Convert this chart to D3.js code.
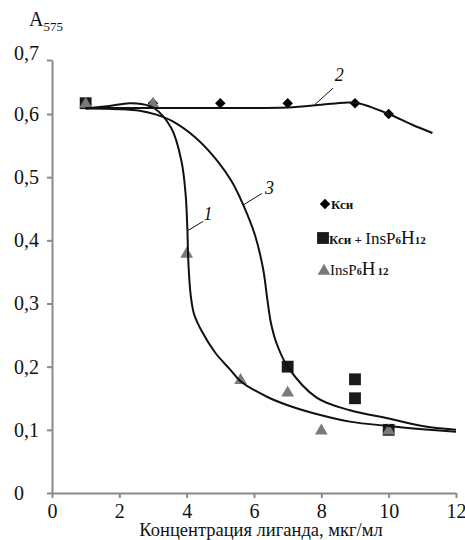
<html lang="ru">
<head>
    <meta charset="UTF-8">
    <title>A575</title>
    <script src="https://d3js.org/d3.v7.min.js"></script>
    <style>
        body { margin: 0; background: #fff; }
        text { font-family: "Liberation Serif", "Times New Roman", serif; fill: #111; }
        .axis path, .axis line { stroke: #8a8a8a; stroke-width: 2px; }
        .curve { fill: none; stroke: #111; stroke-width: 2px; }
    </style>
</head>
<body>
<div id="chart"></div>
<script>
    // data
    var xTicks = [0, 2, 4, 6, 8, 10, 12];
    var yTicks = [0, 0.1, 0.2, 0.3, 0.4, 0.5, 0.6, 0.7];

    // Кси (diamonds)
    var ksi = [[1, 0.62], [3, 0.62], [5, 0.62], [7, 0.62], [9, 0.62], [10, 0.60]];
    // Кси + InsP6H12 (squares)
    var ksiIns = [[1, 0.62], [7, 0.20], [9, 0.18], [9, 0.15], [10, 0.10]];
    // InsP6H12 (triangles)
    var ins = [[1, 0.62], [3, 0.62], [4, 0.38], [5.6, 0.18], [7, 0.16], [8, 0.10], [10, 0.10]];

    // fitted curves
    var curve1 = [[1, 0.61], [1.7, 0.615], [2.3, 0.62], [2.7, 0.618], [3.01, 0.612], [3.55, 0.577],
        [3.85, 0.524], [3.97, 0.472], [4.02, 0.419], [4.05, 0.366], [4.12, 0.313], [4.22, 0.283],
        [4.45, 0.256], [4.85, 0.222], [5.3, 0.195], [5.6, 0.177], [6.4, 0.152], [7, 0.139],
        [8, 0.123], [8.85, 0.113], [10, 0.106], [11, 0.101], [12, 0.097]];
    var curve2 = [[1, 0.611], [3, 0.611], [5, 0.611], [7, 0.612], [8, 0.617], [8.7, 0.621],
        [9.1, 0.62], [10, 0.6], [10.7, 0.583], [11.3, 0.57]];
    var curve3 = [[1, 0.61], [2, 0.609], [2.61, 0.606], [3.1, 0.599], [3.6, 0.588], [4.3, 0.561],
        [4.94, 0.524], [5.34, 0.493], [5.68, 0.456], [6.03, 0.408], [6.27, 0.355], [6.4, 0.305],
        [6.5, 0.27], [6.67, 0.237], [7.0, 0.2], [7.86, 0.151], [8.85, 0.131], [10, 0.118],
        [11, 0.106], [12, 0.1]];

    var width = 465, height = 540;
    var serif = "'Liberation Serif', 'Times New Roman', serif";

    var x = d3.scaleLinear().domain([0, 12]).range([52, 456]);
    // the top tick of the original axis sits closer than the others
    var y = d3.scaleLinear().domain([0, 0.6, 0.7]).range([493, 114, 60]);

    var svg = d3.select("#chart").append("svg")
        .attr("width", width)
        .attr("height", height);

    function fmt(d) {
        return d === 0 ? "0" : d3.format(".1f")(d).replace(".", ",");
    }

    // X axis
    var gx = svg.append("g")
        .attr("class", "axis")
        .attr("transform", "translate(0," + y(0) + ")")
        .call(d3.axisBottom(x).tickValues(xTicks).tickSizeInner(5).tickSizeOuter(0).tickFormat(d3.format("d")))
        .attr("font-family", serif);
    gx.selectAll("text").style("font-size", "20px").attr("dy", "0.85em");

    // Y axis
    var gy = svg.append("g")
        .attr("class", "axis")
        .attr("transform", "translate(" + x(0) + ",0)")
        .call(d3.axisLeft(y).tickValues(yTicks).tickSizeInner(5).tickSizeOuter(0).tickFormat(fmt))
        .attr("font-family", serif);
    gy.selectAll("text")
        .style("font-size", "20px")
        .attr("text-anchor", "start")
        .attr("x", -38)
        .attr("dy", function (d) { return d === 0.7 ? "-0.05em" : "0.32em"; });

    // axis titles
    var yt = svg.append("text").attr("x", 29).attr("y", 26).style("font-size", "20px");
    yt.append("tspan").text("A");
    yt.append("tspan").attr("dy", 5).style("font-size", "13px").text("575");

    svg.append("text")
        .attr("x", 261).attr("y", 536)
        .attr("text-anchor", "middle")
        .style("font-size", "18.5px")
        .text("Концентрация лиганда, мкг/мл");

    // markers
    var diamond = d3.symbol().type(d3.symbolSquare).size(55);
    var square = d3.symbol().type(d3.symbolSquare).size(140);
    var triangle = d3.symbol().type(d3.symbolTriangle).size(70);

    svg.append("g").selectAll("path").data(ksi).enter().append("path")
        .attr("d", diamond)
        .attr("transform", function (d) { return "translate(" + x(d[0]) + "," + y(d[1]) + ") rotate(45)"; })
        .attr("fill", "#000");

    svg.append("g").selectAll("path").data(ksiIns).enter().append("path")
        .attr("d", square)
        .attr("transform", function (d) { return "translate(" + x(d[0]) + "," + y(d[1]) + ")"; })
        .attr("fill", "#1a1a1a");

    svg.append("g").selectAll("path").data(ins).enter().append("path")
        .attr("d", triangle)
        .attr("transform", function (d) { return "translate(" + x(d[0]) + "," + (y(d[1]) + 1) + ")"; })
        .attr("fill", "#7a7a7a");

    // curves
    var line = d3.line()
        .x(function (d) { return x(d[0]); })
        .y(function (d) { return y(d[1]); })
        .curve(d3.curveCatmullRom.alpha(0.5));

    [curve1, curve2, curve3].forEach(function (c) {
        svg.append("path").datum(c).attr("class", "curve").attr("d", line);
    });

    // curve labels with leader lines
    var labels = [
        {t: "1", x1: 4.02, y1: 0.415, x2: 4.49, y2: 0.43, tx: 4.5, ty: 0.432},
        {t: "2", x1: 7.8, y1: 0.617, x2: 8.35, y2: 0.648, tx: 8.4, ty: 0.662},
        {t: "3", x1: 5.68, y1: 0.456, x2: 6.23, y2: 0.474, tx: 6.33, ty: 0.474}
    ];
    labels.forEach(function (l) {
        svg.append("line")
            .attr("x1", x(l.x1)).attr("y1", y(l.y1))
            .attr("x2", x(l.x2)).attr("y2", y(l.y2))
            .attr("stroke", "#111").attr("stroke-width", 1);
        svg.append("text")
            .attr("x", x(l.tx)).attr("y", y(l.ty))
            .style("font-size", "18px").style("font-style", "italic")
            .text(l.t);
    });

    // legend
    var lg = svg.append("g");
    lg.append("path").attr("d", diamond).attr("transform", "translate(325,204) rotate(45)").attr("fill", "#000");
    lg.append("text").attr("x", 331).attr("y", 209).style("font-size", "13px").style("font-weight", "bold").text("Кси");

    lg.append("path").attr("d", square).attr("transform", "translate(323,238)").attr("fill", "#1a1a1a");
    var t2 = lg.append("text").attr("x", 329).attr("y", 244).style("font-weight", "bold");
    t2.append("tspan").style("font-size", "13px").text("Кси + ");
    t2.append("tspan").style("font-size", "17px").style("font-weight", "normal").text("InsP");
    t2.append("tspan").style("font-size", "11px").text("6");
    t2.append("tspan").style("font-size", "19px").style("font-weight", "normal").text("H");
    t2.append("tspan").style("font-size", "11px").text("12");

    lg.append("path").attr("d", triangle).attr("transform", "translate(324,271)").attr("fill", "#7a7a7a");
    var t3 = lg.append("text").attr("x", 330).attr("y", 275).style("font-weight", "bold");
    t3.append("tspan").style("font-size", "15px").style("font-weight", "normal").text("InsP");
    t3.append("tspan").style("font-size", "10px").text("6");
    t3.append("tspan").style("font-size", "19px").style("font-weight", "normal").text("H");
    t3.append("tspan").style("font-size", "11px").attr("dx", 2).text("12");
</script>
</body>
</html>
